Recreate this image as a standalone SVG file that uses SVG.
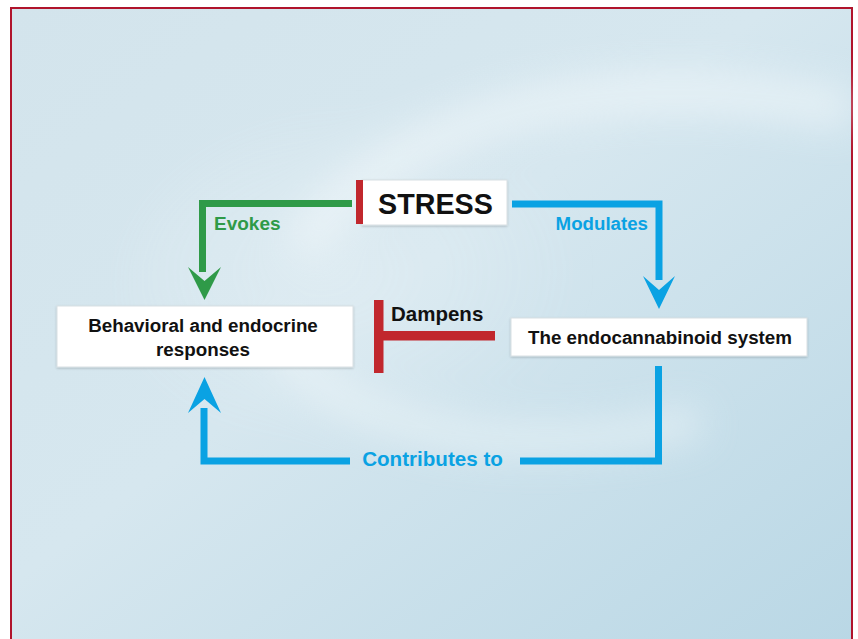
<svg xmlns="http://www.w3.org/2000/svg" width="858" height="639" viewBox="0 0 858 639">
<defs>
<linearGradient id="bg" x1="0" y1="0" x2="1" y2="1">
<stop offset="0" stop-color="#d3e4ec"/>
<stop offset="0.45" stop-color="#d6e7ef"/>
<stop offset="1" stop-color="#b9d7e5"/>
</linearGradient>
<radialGradient id="glow" cx="0.4" cy="0.45" r="0.5">
<stop offset="0" stop-color="#ffffff" stop-opacity="0.35"/>
<stop offset="1" stop-color="#ffffff" stop-opacity="0"/>
</radialGradient>
<filter id="blur" x="-20%" y="-20%" width="140%" height="140%"><feGaussianBlur stdDeviation="18"/></filter>
<filter id="sh" x="-5%" y="-5%" width="110%" height="120%"><feDropShadow dx="0" dy="1" stdDeviation="1" flood-color="#000" flood-opacity="0.2"/></filter>
</defs>
<style>
.box{fill:#fff;stroke:#d8dfe3;stroke-width:1;filter:url(#sh)}
.t{font-family:"Liberation Sans",Arial,sans-serif;font-weight:bold;fill:#111;text-anchor:middle}
.lbl{font-family:"Liberation Sans",Arial,sans-serif;font-weight:bold}
.g{fill:none;stroke:#2f9a48;stroke-width:7}
.b{fill:none;stroke:#0aa2e3;stroke-width:7}
.r{fill:#c1272d}
</style>
<rect x="0" y="0" width="858" height="639" fill="#fff"/>
<rect x="11" y="8" width="841" height="640" fill="url(#bg)" stroke="#b0142c" stroke-width="2"/>
<g filter="url(#blur)" opacity="0.6">
<path d="M300 250 C 380 120, 600 60, 850 110" fill="none" stroke="#f2f8fb" stroke-width="40"/>
<path d="M280 330 C 300 420, 500 470, 700 420" fill="none" stroke="#eef6f9" stroke-width="30"/>
<ellipse cx="380" cy="290" rx="260" ry="180" fill="url(#glow)"/>
</g>
<g id="connectors">
<path class="g" d="M352 203.5 H202.5 V272"/>
<path d="M188 267 L204.5 300 L221 267 L204.5 281 Z" fill="#2f9a48"/>
<path class="b" d="M512 204 H659 V280"/>
<path d="M643 276 L659 309 L675 276 L659 290 Z" fill="#0aa2e3"/>
<path class="b" d="M658.5 366 V461 H520"/>
<path class="b" d="M350 461 H204 V408"/>
<path d="M188 413 L204.5 377 L221 413 L204.5 399 Z" fill="#0aa2e3"/>
<rect class="r" x="374" y="300" width="9.5" height="73"/>
<rect class="r" x="383" y="331" width="112" height="9.5"/>
<text class="lbl" x="214" y="230" font-size="19" fill="#2f9a48">Evokes</text>
<text class="lbl" x="648" y="230" font-size="18.7" fill="#0aa2e3" text-anchor="end">Modulates</text>
<text class="lbl" x="391" y="321" font-size="20.5" fill="#111">Dampens</text>
<text class="lbl" x="432.5" y="466" font-size="20.6" fill="#0aa2e3" text-anchor="middle">Contributes to</text>
</g>
<g id="stress">
<rect class="box" x="362" y="180" width="145" height="45"/>
<rect class="r" x="356" y="180" width="7" height="44"/>
<text class="t" x="435.5" y="214" font-size="28.7">STRESS</text>
</g>
<g id="ecs">
<rect class="box" x="511" y="318" width="296" height="38"/>
<text class="t" x="660" y="344" font-size="18.8">The endocannabinoid system</text>
</g>
<g id="behavior">
<rect class="box" x="57" y="306" width="296" height="61"/>
<text class="t" x="203" y="332" font-size="18.8">Behavioral and endocrine</text>
<text class="t" x="203" y="356" font-size="18.8">responses</text>
</g>
</svg>
